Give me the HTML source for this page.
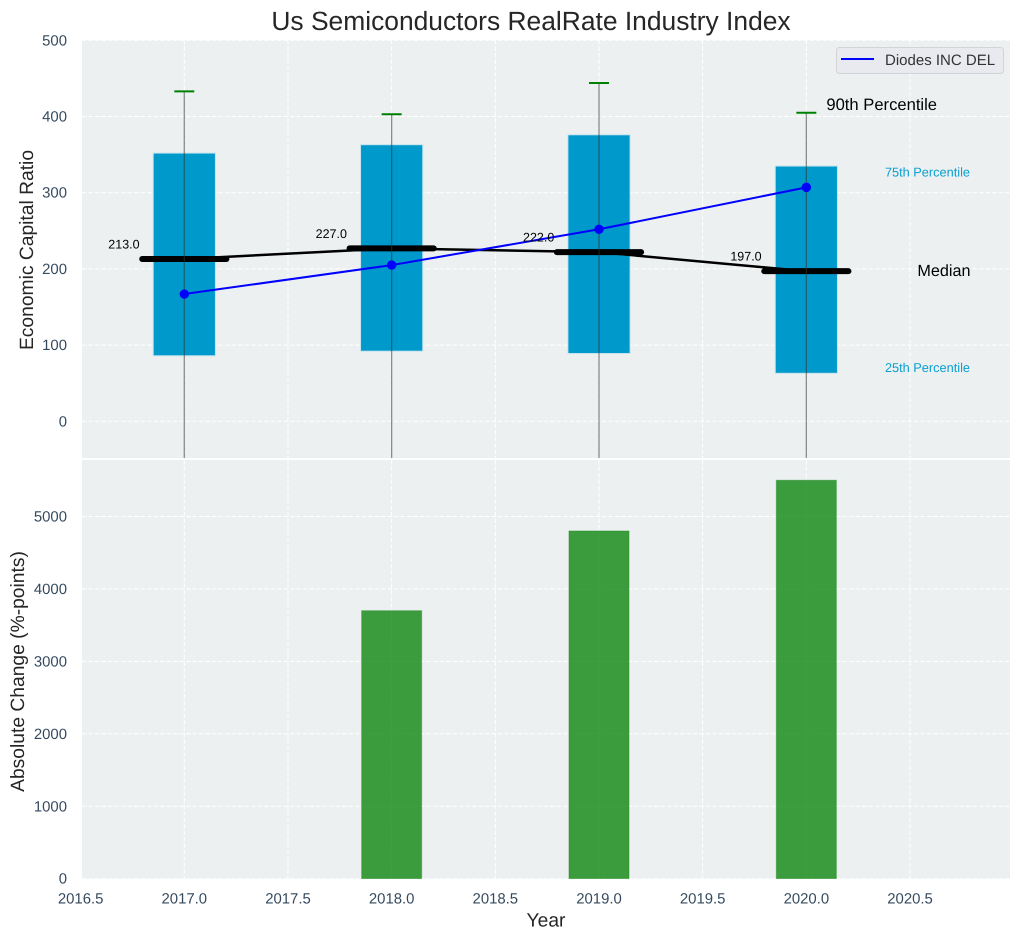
<!DOCTYPE html>
<html lang="en">
<head>
<meta charset="utf-8">
<title>Us Semiconductors RealRate Industry Index</title>
<style>
html,body{margin:0;padding:0;background:#fff;}
svg{display:block;font-family:"Liberation Sans",Arial,sans-serif;text-rendering:geometricPrecision;}
</style>
</head>
<body>
<svg id="chart" xmlns="http://www.w3.org/2000/svg" width="1020" height="940" viewBox="0 0 1020 940">
  <defs>
    <clipPath id="clip-top"><rect x="82" y="40" width="928" height="418"></rect></clipPath>
    <clipPath id="clip-bottom"><rect x="82" y="460" width="928" height="419"></rect></clipPath>
  </defs>
  <rect x="0" y="0" width="1020" height="940" fill="#ffffff"></rect>
  <text x="531" y="30" text-anchor="middle" font-size="26.4" fill="#262626">Us Semiconductors RealRate Industry Index</text>
  <rect x="82" y="40" width="928" height="418" fill="#ecf0f1"></rect>
  <rect x="82" y="460" width="928" height="419" fill="#ecf0f1"></rect>
  <g id="top-grid" clip-path="url(#clip-top)"></g>
  <g id="bottom-grid" clip-path="url(#clip-bottom)"></g>
  <g id="top-marks" clip-path="url(#clip-top)"></g>
  <g id="bottom-marks" clip-path="url(#clip-bottom)"></g>
  <g id="axis-labels"></g>
  <text transform="translate(33,250) rotate(-90)" text-anchor="middle" font-size="19.25" fill="#262626">Economic Capital Ratio</text>
  <text transform="translate(24,671.5) rotate(-90)" text-anchor="middle" font-size="19.25" fill="#262626">Absolute Change (%-points)</text>
  <text x="546" y="926.7" text-anchor="middle" font-size="19.25" fill="#262626">Year</text>
  <g>
    <rect x="836.5" y="47.5" width="167" height="26" rx="3" fill="#e8eaef" stroke="#d2d4d8" stroke-width="1"></rect>
    <line x1="841" y1="59" x2="874" y2="59" stroke="#0000ff" stroke-width="2"></line>
    <text x="885" y="65" font-size="15" fill="#333333">Diodes INC DEL</text>
  </g>
  <g id="annotations"></g>
</svg>
<script>
const years = [2017, 2018, 2019, 2020];
const p90Values = [433, 403, 444, 405];
const p75Values = [352, 363, 376, 335];
const medianValues = [213, 227, 222, 197];
const p25Values = [86, 92, 89, 63];
const whiskerLowValues = [-120, -120, -120, -120];
const companyValues = [167, 205, 252, 307];
const changeValues = [0, 3700, 4800, 5500];
const xTicks = [2016.5, 2017, 2017.5, 2018, 2018.5, 2019, 2019.5, 2020, 2020.5];
const topYTicks = [0, 100, 200, 300, 400, 500];
const bottomYTicks = [0, 1000, 2000, 3000, 4000, 5000];

const NS = 'http://www.w3.org/2000/svg';
function xPos(v) { return 184.3 + (v - 2017) * 207.35; }
function yTop(v) { return 421.3 - v * 0.762; }
function yBottom(v) { return 878.7 - v * 0.07245; }
function make(parent, tag, attrs, text) {
  const el = document.createElementNS(NS, tag);
  for (const k in attrs) el.setAttribute(k, attrs[k]);
  if (text !== undefined) el.textContent = text;
  parent.appendChild(el);
  return el;
}
const topGrid = document.getElementById('top-grid');
const bottomGrid = document.getElementById('bottom-grid');
const topMarks = document.getElementById('top-marks');
const bottomMarks = document.getElementById('bottom-marks');
const axisLabels = document.getElementById('axis-labels');
const annotations = document.getElementById('annotations');
const gridStyle = { stroke: '#ffffff', 'stroke-width': 1, 'stroke-dasharray': '4.5 2' };

xTicks.forEach(function (t) {
  const a = make(topGrid, 'line', Object.assign({ x1: xPos(t), x2: xPos(t), y1: 40, y2: 458 }, gridStyle));
  
  
  const b = make(bottomGrid, 'line', Object.assign({ x1: xPos(t), x2: xPos(t), y1: 460, y2: 879 }, gridStyle));
  
  
  const l = make(axisLabels, 'text', { x: xPos(t), y: 903.5, 'text-anchor': 'middle', 'font-size': 14.9, fill: '#34495e' }, t.toFixed(1));
  
  
});
topYTicks.forEach(function (t) {
  const a = make(topGrid, 'line', Object.assign({ x1: 82, x2: 1010, y1: yTop(t), y2: yTop(t) }, gridStyle));
  
  
  const l = make(axisLabels, 'text', { x: 67, y: yTop(t) + 5, 'text-anchor': 'end', 'font-size': 14.9, fill: '#34495e' }, String(t));
  
  
});
bottomYTicks.forEach(function (t) {
  const a = make(bottomGrid, 'line', Object.assign({ x1: 82, x2: 1010, y1: yBottom(t), y2: yBottom(t) }, gridStyle));
  
  
  const l = make(axisLabels, 'text', { x: 67, y: yBottom(t) + 5, 'text-anchor': 'end', 'font-size': 14.9, fill: '#34495e' }, String(t));
  
  
});

const boxHalf = 0.15;
const barHalf = 0.145;
years.forEach(function (yr, i) {
  const box = make(topMarks, 'rect', {
    x: xPos(yr - boxHalf), y: yTop(p75Values[i]),
    width: xPos(yr + boxHalf) - xPos(yr - boxHalf),
    height: yTop(p25Values[i]) - yTop(p75Values[i]),
    fill: '#0099cc', stroke: '#c4e4ee', 'stroke-width': 1
  });
  
  
});
const medianPts = years.map(function (yr, i) { return xPos(yr) + ',' + yTop(medianValues[i]); }).join(' ');
const medianLine = make(topMarks, 'polyline', { points: medianPts, fill: 'none', stroke: '#000000', 'stroke-width': 2.5 });


years.forEach(function (yr, i) {
  const m = make(topMarks, 'line', {
    x1: xPos(yr - 0.203), x2: xPos(yr + 0.203), y1: yTop(medianValues[i]), y2: yTop(medianValues[i]),
    stroke: '#000000', 'stroke-width': 6, 'stroke-linecap': 'round'
  });
  
  
});
years.forEach(function (yr, i) {
  const w = make(topMarks, 'line', {
    x1: xPos(yr), x2: xPos(yr), y1: yTop(p90Values[i]), y2: yTop(whiskerLowValues[i]),
    stroke: '#333333', 'stroke-opacity': 0.55, 'stroke-width': 1.3
  });
  
  
  const c = make(topMarks, 'line', {
    x1: xPos(yr) - 10, x2: xPos(yr) + 10, y1: yTop(p90Values[i]), y2: yTop(p90Values[i]),
    stroke: '#008000', 'stroke-width': 2
  });
  
  
});
const companyPts = years.map(function (yr, i) { return xPos(yr) + ',' + yTop(companyValues[i]); }).join(' ');
const companyLine = make(topMarks, 'polyline', { points: companyPts, fill: 'none', stroke: '#0000ff', 'stroke-width': 2 });


years.forEach(function (yr, i) {
  const p = make(topMarks, 'circle', { cx: xPos(yr), cy: yTop(companyValues[i]), r: 4.7, fill: '#0000ff' });
  
  
  const t = make(annotations, 'text', {
    x: xPos(yr) - 76, y: yTop(medianValues[i]) - 10.5, 'font-size': 12.5, fill: '#000000'
  }, medianValues[i].toFixed(1));
  
  
});
years.forEach(function (yr, i) {
  if (changeValues[i] <= 0) return;
  const b = make(bottomMarks, 'rect', {
    x: xPos(yr - barHalf), y: yBottom(changeValues[i]),
    width: xPos(yr + barHalf) - xPos(yr - barHalf),
    height: yBottom(0) - yBottom(changeValues[i]),
    fill: '#008000', 'fill-opacity': 0.75, stroke: '#008000', 'stroke-opacity': 0.3, 'stroke-width': 1
  });
  
  
});

const last = years.length - 1;
const a90 = make(annotations, 'text', { x: xPos(years[last]) + 20, y: yTop(p90Values[last]) - 2.7, 'font-size': 16.6, fill: '#000000' }, '90th Percentile');


const a75 = make(annotations, 'text', { x: 970, y: yTop(p75Values[last]) + 10.5, 'text-anchor': 'end', 'font-size': 12.75, fill: '#0aa0d0' }, '75th Percentile');


const aMed = make(annotations, 'text', { x: 970.5, y: yTop(medianValues[last]) + 5, 'text-anchor': 'end', 'font-size': 16.2, fill: '#000000' }, 'Median');


const a25 = make(annotations, 'text', { x: 970, y: yTop(p25Values[last]) - 1.5, 'text-anchor': 'end', 'font-size': 12.75, fill: '#0aa0d0' }, '25th Percentile');


</script>
</body>
</html>
